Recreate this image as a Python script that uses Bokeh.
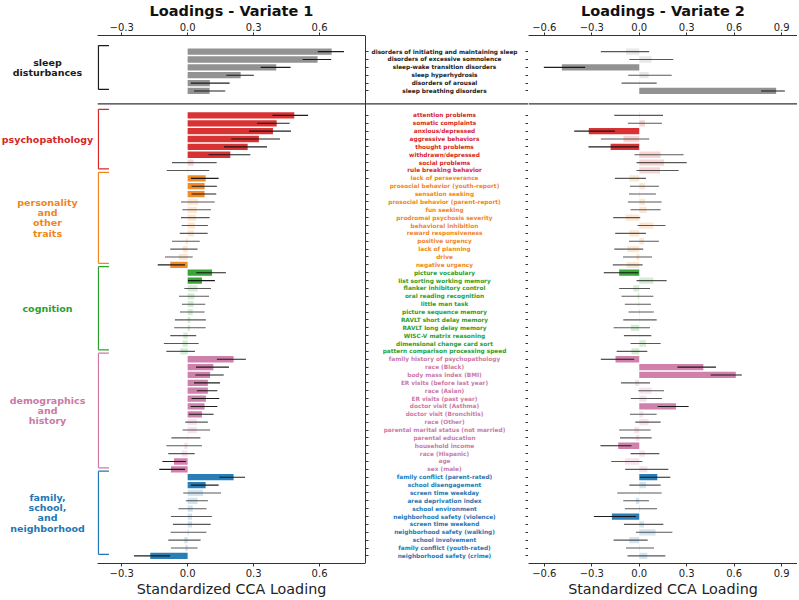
from bokeh.plotting import figure
from bokeh.models import (Range1d, LinearAxis, FixedTicker, CustomJSTickFormatter,
                          Span, ColumnDataSource)
from bokeh.layouts import row
from bokeh.embed import file_html
from bokeh.resources import INLINE
from bokeh.core.properties import value

# ---------------- data ----------------
group_titles = ["sleep\ndisturbances", "psychopathology", "personality\nand\nother\ntraits",
                "cognition", "demographics\nand\nhistory", "family,\nschool,\nand\nneighborhood"]
group_colors = ["#1a1a1a", "#d62728", "#f0861e", "#2ca02c", "#cc79a7", "#1f77b4"]
bar_colors = ["#8c8c8c", "#d62728", "#f0861e", "#2ca02c", "#cc79a7", "#1f77b4"]

sleep_items = ["disorders of initiating and maintaining sleep", "disorders of excessive somnolence",
               "sleep-wake transition disorders", "sleep hyperhydrosis", "disorders of arousal",
               "sleep breathing disorders"]
psych_items = ["attention problems", "somatic complaints", "anxious/depressed", "aggressive behaviors",
               "thought problems", "withdrawn/depressed", "social problems", "rule breaking behavior"]
personality_items = ["lack of perseverance", "prosocial behavior (youth-report)", "sensation seeking",
                     "prosocial behavior (parent-report)", "fun seeking", "prodromal psychosis severity",
                     "behavioral inhibition", "reward responsiveness", "positive urgency",
                     "lack of planning", "drive", "negative urgency"]
cognition_items = ["picture vocabulary", "list sorting working memory", "flanker inhibitory control",
                   "oral reading recognition", "little man task", "picture sequence memory",
                   "RAVLT short delay memory", "RAVLT long delay memory", "WISC-V matrix reasoning",
                   "dimensional change card sort", "pattern comparison processing speed"]
demog_items = ["family history of psychopathology", "race (Black)", "body mass index (BMI)",
               "ER visits (before last year)", "race (Asian)", "ER visits (past year)",
               "doctor visit (Asthma)", "doctor visit (Bronchitis)", "race (Other)",
               "parental marital status (not married)", "parental education", "household income",
               "race (Hispanic)", "age", "sex (male)"]
family_items = ["family conflict (parent-rated)", "school disengagement", "screen time weekday",
                "area deprivation index", "school environment", "neighborhood safety (violence)",
                "screen time weekend", "neighborhood safety (walking)", "school involvement",
                "family conflict (youth-rated)", "neighborhood safety (crime)"]
group_items = [sleep_items, psych_items, personality_items, cognition_items, demog_items, family_items]

# Variate 1 loadings and intervals
v1_load = [0.655, 0.591, 0.403, 0.241, 0.101, 0.100,
           0.485, 0.405, 0.388, 0.324, 0.273, 0.194, 0.027, 0.002,
           0.082, 0.077, 0.077, 0.048, 0.042, 0.038, 0.033, 0.029, -0.008, -0.022, -0.040, -0.079,
           0.111, 0.065, 0.045, 0.030, 0.027, 0.023, 0.012, 0.011, -0.020, -0.023, -0.033,
           0.209, 0.117, 0.102, 0.092, 0.092, 0.083, 0.077, 0.065, 0.042, 0.042, -0.003, -0.015,
           -0.027, -0.062, -0.076,
           0.209, 0.082, 0.070, 0.045, 0.023, 0.020, 0.020, 0.005, -0.015, -0.010, -0.170]
v1_lo = [0.592, 0.523, 0.332, 0.176, 0.014, 0.029,
         0.386, 0.315, 0.279, 0.198, 0.165, 0.095, -0.071, -0.095,
         0.015, 0.018, 0.018, -0.030, -0.024, -0.030, -0.027, -0.036, -0.071, -0.079, -0.103, -0.136,
         0.039, 0.002, -0.015, -0.039, -0.026, -0.035, -0.058, -0.061, -0.079, -0.108, -0.097,
         0.133, 0.038, 0.035, 0.029, 0.042, 0.018, 0.014, 0.005, -0.011, -0.023, -0.074, -0.097,
         -0.088, -0.115, -0.129,
         0.144, 0.015, -0.020, -0.008, -0.042, -0.076, -0.067, -0.077, -0.088, -0.076, -0.244]
v1_hi = [0.711, 0.653, 0.468, 0.301, 0.191, 0.171,
         0.548, 0.464, 0.470, 0.420, 0.361, 0.285, 0.132, 0.098,
         0.141, 0.133, 0.130, 0.123, 0.106, 0.100, 0.092, 0.091, 0.055, 0.045, 0.023, -0.012,
         0.174, 0.124, 0.106, 0.097, 0.080, 0.077, 0.083, 0.082, 0.039, 0.050, 0.033,
         0.265, 0.188, 0.164, 0.147, 0.135, 0.144, 0.135, 0.118, 0.092, 0.102, 0.058, 0.065,
         0.032, -0.008, -0.012,
         0.261, 0.141, 0.152, 0.092, 0.086, 0.110, 0.105, 0.085, 0.059, 0.045, -0.080]

# Variate 2 loadings and intervals
v2_load = [-0.084, 0.078, -0.489, 0.059, 0.003, 0.865,
           0.003, 0.036, -0.319, -0.100, -0.181, 0.135, 0.156, 0.131,
           -0.063, 0.036, 0.005, 0.036, 0.046, -0.086, 0.089, -0.063, 0.030, -0.076, -0.017, -0.080,
           -0.127, 0.089, -0.038, -0.010, -0.005, 0.005, 0.002, -0.053, -0.002, 0.042, -0.049,
           -0.150, 0.405, 0.610, -0.027, 0.078, 0.046, 0.232, 0.025, 0.059, -0.032, -0.021, -0.133,
           0.036, -0.091, 0.051,
           0.114, 0.042, 0.002, -0.021, 0.005, -0.173, 0.030, 0.103, -0.063, 0.003, 0.051]
v2_lo = [-0.243, -0.063, -0.603, -0.070, -0.112, 0.770,
         -0.158, -0.072, -0.411, -0.243, -0.321, -0.030, -0.017, -0.017,
         -0.154, -0.059, -0.065, -0.072, -0.055, -0.165, -0.011, -0.152, -0.065, -0.158, -0.103, -0.167,
         -0.224, -0.017, -0.127, -0.112, -0.091, -0.068, -0.101, -0.162, -0.097, -0.055, -0.143,
         -0.243, 0.241, 0.451, -0.116, -0.006, -0.053, 0.116, -0.059, -0.025, -0.127, -0.122, -0.245,
         -0.055, -0.177, -0.089,
         0.004, -0.063, -0.139, -0.101, -0.091, -0.287, -0.097, -0.021, -0.162, -0.084, -0.074]
v2_hi = [0.063, 0.215, -0.342, 0.205, 0.110, 0.920,
         0.150, 0.143, -0.154, 0.063, -0.005, 0.280, 0.300, 0.249,
         0.042, 0.124, 0.105, 0.141, 0.135, 0.006, 0.165, 0.042, 0.124, 0.025, 0.080, 0.021,
         -0.006, 0.173, 0.068, 0.089, 0.074, 0.091, 0.110, 0.068, 0.076, 0.135, 0.051,
         -0.032, 0.485, 0.648, 0.068, 0.156, 0.143, 0.312, 0.110, 0.135, 0.072, 0.078, -0.049,
         0.127, 0.019, 0.184,
         0.196, 0.135, 0.141, 0.061, 0.112, -0.021, 0.152, 0.209, 0.053, 0.093, 0.165]

v1_ticks = [-0.3, 0.0, 0.3, 0.6]
v2_ticks = [-0.6, -0.3, 0.0, 0.3, 0.6, 0.9]

# ---------------- layout constants ----------------
W_G, W_L, W_M, W_R = 97, 268, 163, 269
H, T, B = 599, 34, 32
XL = (-0.41, 0.809)
XR = (-0.70, 1.0)
FONT = "DejaVu Sans"
AX = "#333333"

# y positions (top to bottom)
n_sleep = len(sleep_items)
ypos, labels, lcolors, bcolors, gid = [], [], [], [], []
k = 0
for g, items in enumerate(group_items):
    for it in items:
        if g == 0:
            y = k
        else:
            y = (n_sleep - 1) + 3.11 + (k - n_sleep)
        ypos.append(y)
        labels.append(it)
        lcolors.append(group_colors[g])
        bcolors.append(bar_colors[g])
        gid.append(g)
        k += 1
sep_y = n_sleep - 1 + 1.64
yr = Range1d(start=ypos[-1] + 0.97, end=-2.05)


def sig_alpha(lo, hi):
    fa, la = [], []
    for a, b in zip(lo, hi):
        s = (a > 0) or (b < 0)
        fa.append(0.95 if s else 0.2)
        la.append(0.95 if s else 0.7)
    return fa, la


fa1, la1 = sig_alpha(v1_lo, v1_hi)
fa2, la2 = sig_alpha(v2_lo, v2_hi)
src = ColumnDataSource(dict(y=ypos, label=labels, lcolor=lcolors, bcolor=bcolors,
                            v1=v1_load, lo1=v1_lo, hi1=v1_hi, fa1=fa1, la1=la1,
                            v2=v2_load, lo2=v2_lo, hi2=v2_hi, fa2=fa2, la2=la2))

fmt = CustomJSTickFormatter(code="return (tick < 0 ? '\u2212' : '') + Math.abs(tick).toFixed(1);")


def style_x(ax, ticks, label=None):
    ax.ticker = FixedTicker(ticks=ticks)
    ax.formatter = fmt
    ax.major_tick_in = 0
    ax.major_tick_out = 3
    ax.minor_tick_in = 0
    ax.minor_tick_out = 0
    ax.major_label_text_font = FONT
    ax.major_label_text_font_size = "10px"
    ax.major_label_text_color = "#222222"
    ax.major_label_standoff = 2
    ax.axis_line_color = AX
    ax.major_tick_line_color = AX
    if label:
        ax.axis_label = label
        ax.axis_label_text_font = FONT
        ax.axis_label_text_font_size = "14.3px"
        ax.axis_label_text_font_style = "normal"
        ax.axis_label_text_color = "#222222"
        ax.axis_label_standoff = 1


def base_fig(w, xr, title=None, yloc=None):
    p = figure(width=w, height=H, x_range=xr, y_range=yr, output_backend="svg",
               toolbar_location=None, title=title, y_axis_location=yloc,
               min_border_left=0, min_border_right=0, min_border_top=T, min_border_bottom=B)
    p.outline_line_color = None
    p.grid.visible = False
    p.background_fill_color = "white"
    p.border_fill_color = "white"
    if title:
        p.title.align = "center"
        p.title.text_font = FONT
        p.title.text_font_size = "14.5px"
        p.title.text_font_style = "bold"
        p.title.text_color = "#111111"
        p.title.standoff = 1
    return p


def panel(w, xr, title, ticks, vcol, locol, hicol, facol, lacol):
    p = base_fig(w, Range1d(*xr), title=title)
    style_x(p.xaxis[0], ticks, "Standardized CCA Loading")
    top_ax = LinearAxis()
    p.add_layout(top_ax, "above")
    style_x(top_ax, ticks)
    p.hbar(y="y", left=0, right=vcol, height=0.8, fill_color="bcolor", fill_alpha=facol,
           line_color=None, source=src)
    p.segment(x0=locol, x1=hicol, y0="y", y1="y", line_color="#111111", line_alpha=lacol,
              line_width=1.1, source=src)
    p.add_layout(Span(location=sep_y, dimension="width", line_color=AX, line_width=1.2))
    return p


pl = panel(W_L, XL, "Loadings - Variate 1", v1_ticks, "v1", "lo1", "hi1", "fa1", "la1")
pr = panel(W_R, XR, "Loadings - Variate 2", v2_ticks, "v2", "lo2", "hi2", "fa2", "la2")

# group brackets on the left edge of the variate-1 panel
bx0 = XL[0] + 0.004
barm = XL[0] + 0.052
bxs0, bxs1, bys0, bys1, bcol = [], [], [], [], []
g_centers = []
for g in range(len(group_items)):
    ys = [y for y, gg in zip(ypos, gid) if gg == g]
    ya, yb = ys[0] - 0.77, ys[-1] - 0.2
    g_centers.append((ya + yb) / 2)
    for (x0, y0, x1, y1) in [(bx0, ya, bx0, yb), (bx0, ya, barm, ya), (bx0, yb, barm, yb)]:
        bxs0.append(x0); bys0.append(y0); bxs1.append(x1); bys1.append(y1)
        bcol.append(group_colors[g])
pl.segment(x0=bxs0, y0=bys0, x1=bxs1, y1=bys1, line_color=bcol, line_width=1.3)

# middle: variable names
pm = base_fig(W_M, Range1d(0, W_M), yloc="left")
pm.add_layout(LinearAxis(), "right")
for ax in pm.yaxis:
    ax.ticker = FixedTicker(ticks=ypos)
    ax.formatter = CustomJSTickFormatter(code="return '';")
    ax.major_tick_in = 3
    ax.major_tick_out = 0
    ax.minor_tick_in = 0
    ax.minor_tick_out = 0
    ax.major_label_standoff = 0
    ax.major_label_text_font_size = "1px"
    ax.axis_line_color = AX
    ax.major_tick_line_color = AX
pm.xaxis.visible = False
pm.add_layout(Span(location=sep_y, dimension="width", line_color=AX, line_width=1.2))
pm.text(x=79, y="y", text="label", text_color="lcolor", text_font=value(FONT),
        text_font_size="5.8px", text_font_style="bold", text_align="center",
        text_baseline="middle", source=src)

# group names
pg = base_fig(W_G, Range1d(0, W_G))
pg.xaxis.visible = False
pg.yaxis.visible = False
pg.text(x=[47] * len(g_centers), y=g_centers, text=group_titles, text_color=group_colors,
        text_font=value(FONT), text_font_size="9.5px", text_font_style="bold",
        text_align="center", text_baseline="middle", text_line_height=0.95)

layout = row(pg, pl, pm, pr)
open("out.html", "w").write(file_html(layout, INLINE, "CCA loadings"))
